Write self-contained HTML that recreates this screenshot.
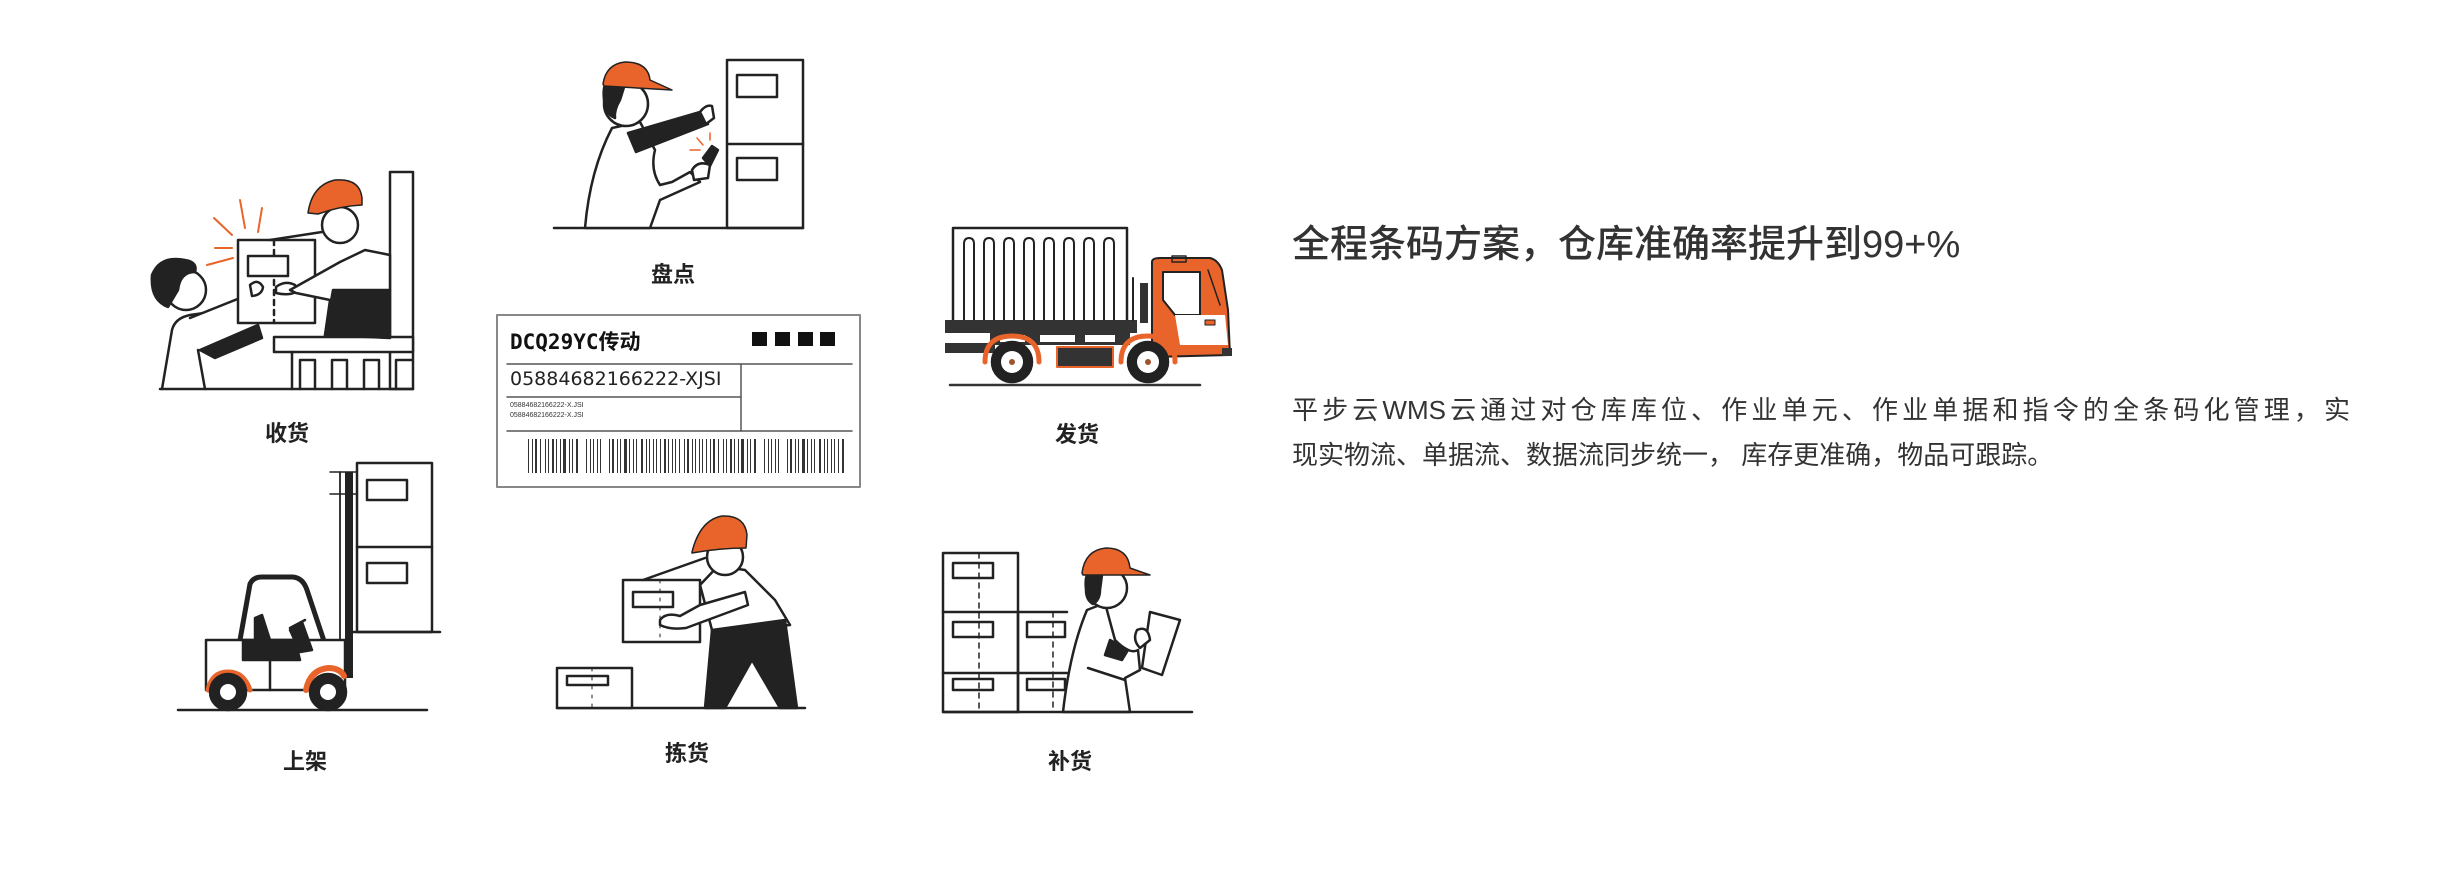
<!DOCTYPE html>
<html><head><meta charset="utf-8">
<style>
html,body{margin:0;padding:0;background:#fff;}
body{width:2444px;height:876px;position:relative;overflow:hidden;font-family:"Liberation Sans","Noto Sans CJK SC",sans-serif;color:#333;}
.lbl{position:absolute;font-family:"Liberation Sans","Noto Sans CJK SC",sans-serif;font-weight:700;font-size:22px;color:#222;transform:translate(-50%,-50%);white-space:nowrap;}
.title{position:absolute;left:1292px;top:220px;font-size:38px;font-weight:500;color:#333;white-space:nowrap;line-height:50px;}
.body1{position:absolute;left:1292px;top:389px;width:1058px;font-size:26px;line-height:42px;text-align:justify;text-align-last:justify;white-space:nowrap;color:#333;}
.body2{position:absolute;left:1292px;top:434px;font-size:26px;line-height:42px;white-space:pre;color:#333;}
svg{position:absolute;left:0;top:0;}
</style></head><body>
<svg width="2444" height="876" viewBox="0 0 2444 876" fill="none" stroke="#222" stroke-width="2.5" stroke-linejoin="round" stroke-linecap="round">
<!-- ===== 收货 ===== -->
<g>
<rect x="390" y="172" width="23" height="217" fill="#fff"/>
<rect x="274" y="337" width="139" height="15" fill="#fff"/>
<line x1="292" y1="352" x2="292" y2="389"/>
<path d="M300 389V360H315V389M332 389V360H347V389M364 389V360H379V389M396 389V360H411" />
<line x1="160" y1="389" x2="413" y2="389"/>
<!-- left person -->
<path d="M162 389L172 330Q175 318 190 315L225 310" fill="#fff"/>
<path d="M205 389L198 350" />
<path d="M200 350L258 325L262 338L215 358Z" fill="#222"/>
<path d="M190 318L255 292L262 305" fill="#fff"/>
<circle cx="186" cy="290" r="20" fill="#fff"/>
<path d="M152 275Q160 255 185 260Q198 262 195 272Q180 272 178 290Q172 300 168 307Q150 300 152 275Z" fill="#222"/>
<!-- box -->
<rect x="238" y="240" width="77" height="83" fill="#fff"/>
<line x1="274" y1="240" x2="274" y2="323" stroke-dasharray="5 5"/>
<rect x="248" y="256" width="40" height="20" fill="#fff"/>
<path d="M250 285Q258 278 263 287Q262 295 252 296Z" fill="#fff"/>
<path d="M276 287Q285 280 295 285L296 292Q288 296 276 293Z" fill="#fff"/>
<!-- right person -->
<path d="M290 290L340 262L365 250L390 255L390 290L380 320L325 335L330 300L296 293Z" fill="#fff"/>
<path d="M325 335L333 290L390 290L390 338Z" fill="#222"/>
<circle cx="340" cy="225" r="18" fill="#fff"/>
<path d="M308 213Q312 185 335 180Q360 178 362 198L362 205Q340 206 318 214Z" fill="#e8642a" stroke="#222" stroke-width="1.5"/>
<line x1="270" y1="240" x2="322" y2="232"/>
<!-- rays -->
<g stroke="#e8642a" stroke-width="2">
<line x1="214" y1="218" x2="232" y2="235"/><line x1="215" y1="248" x2="232" y2="248"/><line x1="207" y1="265" x2="233" y2="258"/>
<line x1="240" y1="200" x2="245" y2="228"/><line x1="262" y1="208" x2="258" y2="232"/>
</g>
</g>

<!-- ===== 盘点 ===== -->
<g>
<rect x="727" y="60" width="76" height="168" fill="#fff"/>
<line x1="727" y1="144" x2="803" y2="144"/>
<rect x="737" y="75" width="40" height="22"/><rect x="737" y="158" width="40" height="22"/>
<line x1="554" y1="228" x2="803" y2="228"/>
<path d="M585 228Q590 170 612 128L640 122L655 150Q650 170 660 185L672 182L690 172L700 182L660 200L650 228Z" fill="#fff"/>
<path d="M628 133L700 112L708 124L636 152Z" fill="#222"/>
<path d="M700 112Q706 104 712 106L714 118L706 124Z" fill="#fff"/>
<path d="M703 158L712 146L718 150L710 166Z" fill="#222"/>
<path d="M692 170Q698 160 710 165L708 178L694 180Z" fill="#fff"/>
<circle cx="626" cy="104" r="22" fill="#fff"/>
<path d="M604 100Q602 82 610 80L625 84L620 100Q614 110 615 118Q605 114 604 100Z" fill="#222"/>
<path d="M603 84Q606 64 625 62Q648 62 650 80L672 90L604 86Z" fill="#e8642a" stroke="#222" stroke-width="1.5"/>
<g stroke="#e8642a" stroke-width="1.5"><line x1="697" y1="138" x2="703" y2="145"/><line x1="690" y1="150" x2="700" y2="150"/><line x1="710" y1="133" x2="710" y2="140"/></g>
</g>

<!-- ===== 上架 ===== -->
<g>
<rect x="357" y="463" width="75" height="169" fill="#fff"/>
<line x1="357" y1="547" x2="432" y2="547"/>
<rect x="367" y="480" width="40" height="20"/><rect x="367" y="563" width="40" height="20"/>
<line x1="350" y1="632" x2="440" y2="632"/>
<line x1="340" y1="472" x2="340" y2="655" stroke-width="1.8"/>
<line x1="330" y1="472" x2="357" y2="472" stroke-width="1.5"/><line x1="330" y1="494" x2="357" y2="494" stroke-width="1.5"/>
<rect x="345" y="472" width="8" height="206" fill="#222" stroke="none"/>
<path d="M240 640L250 584Q253 577 262 577L293 577Q303 578 307 590L328 653" stroke-width="5"/>
<path d="M206 640H345V690H206Z" fill="#fff"/>
<path d="M243 640H295L300 660H243Z" fill="#222"/>
<path d="M255 618L262 615L270 640L255 640Z" fill="#222"/>
<path d="M290 630L302 622L312 650L300 652Z" fill="#222"/>
<line x1="290" y1="628" x2="305" y2="620"/>
<line x1="270" y1="660" x2="270" y2="690"/>
<path d="M208 690Q212 672 228 672Q244 672 250 690" stroke="#e8642a" stroke-width="5"/>
<path d="M306 690Q310 670 328 668Q340 668 344 676" stroke="#e8642a" stroke-width="6"/>
<circle cx="228" cy="692" r="18" fill="#222"/><circle cx="228" cy="692" r="8" fill="#fff" stroke="none"/>
<circle cx="328" cy="692" r="18" fill="#222"/><circle cx="328" cy="692" r="8" fill="#fff" stroke="none"/>
<line x1="178" y1="710" x2="427" y2="710"/>
</g>

<!-- ===== 拣货 ===== -->
<g>
<line x1="557" y1="708" x2="805" y2="708"/>
<rect x="557" y="668" width="75" height="40" fill="#fff"/>
<rect x="567" y="676" width="41" height="9"/>
<line x1="592" y1="668" x2="592" y2="708" stroke-dasharray="3 6" stroke-width="1"/>
<path d="M712 630L700 585L718 566L745 570L775 600L790 625L712 632Z" fill="#fff"/>
<path d="M712 630L785 620L797 708H780L752 660L725 708H705Z" fill="#222"/>
<rect x="623" y="580" width="77" height="62" fill="#fff"/>
<rect x="633" y="592" width="40" height="15"/>
<line x1="660" y1="580" x2="660" y2="642" stroke-dasharray="3 6" stroke-width="1"/>
<line x1="643" y1="580" x2="705" y2="558"/>
<path d="M660 620Q666 612 680 616L700 605L745 592L748 605L686 628Q670 630 660 625Z" fill="#fff"/>
<circle cx="725" cy="557" r="18" fill="#fff"/>
<path d="M692 552Q700 520 722 516Q745 515 747 535L746 548Q720 548 692 553Z" fill="#e8642a" stroke="#222" stroke-width="1.5"/>
</g>

<!-- ===== 补货 ===== -->
<g>
<rect x="943" y="553" width="75" height="159" fill="#fff"/>
<line x1="943" y1="612" x2="1067" y2="612"/><line x1="943" y1="673" x2="1067" y2="673"/>
<line x1="1018" y1="612" x2="1018" y2="712"/>
<rect x="953" y="563" width="40" height="15"/><rect x="953" y="622" width="40" height="15"/><rect x="953" y="679" width="40" height="11"/>
<rect x="1027" y="622" width="38" height="15"/><rect x="1027" y="679" width="38" height="11"/>
<line x1="979" y1="553" x2="979" y2="712" stroke-dasharray="5 5" stroke-width="1.5"/>
<line x1="1053" y1="612" x2="1053" y2="712" stroke-dasharray="5 5" stroke-width="1.5"/>
<path d="M1063 712Q1070 650 1087 610L1105 603L1115 640Q1130 655 1138 650L1140 670L1125 678L1130 712Z" fill="#fff"/>
<path d="M1110 640L1128 650L1122 660L1105 655Z" fill="#222"/>
<line x1="1088" y1="668" x2="1125" y2="680"/>
<path d="M1150 612L1180 620L1162 675L1142 668Z" fill="#fff"/>
<path d="M1137 630Q1148 625 1150 640L1140 648Q1132 640 1137 630Z" fill="#fff"/>
<circle cx="1107" cy="588" r="20" fill="#fff"/>
<path d="M1086 590Q1084 572 1092 570L1102 575L1100 590Q1100 600 1093 604Q1086 600 1086 590Z" fill="#222"/>
<path d="M1082 573Q1085 550 1106 548Q1128 548 1130 568L1150 575L1083 575Z" fill="#e8642a" stroke="#222" stroke-width="1.5"/>
<line x1="943" y1="712" x2="1192" y2="712"/>
</g>

<!-- ===== 发货 truck ===== -->
<g>
<rect x="953" y="228" width="174" height="94" fill="#fff"/>
<g stroke-width="2">
<path d="M964 320V244Q964 238 969 238Q974 238 974 244V320"/>
<path d="M984 320V244Q984 238 989 238Q994 238 994 244V320"/>
<path d="M1004 320V244Q1004 238 1009 238Q1014 238 1014 244V320"/>
<path d="M1024 320V244Q1024 238 1029 238Q1034 238 1034 244V320"/>
<path d="M1044 320V244Q1044 238 1049 238Q1054 238 1054 244V320"/>
<path d="M1064 320V244Q1064 238 1069 238Q1074 238 1074 244V320"/>
<path d="M1084 320V244Q1084 238 1089 238Q1094 238 1094 244V320"/>
<path d="M1104 320V244Q1104 238 1109 238Q1114 238 1114 244V320"/>
</g>
<rect x="945" y="320" width="192" height="13" fill="#333" stroke="none"/>
<rect x="945" y="343" width="50" height="10" fill="#333" stroke="none"/>
<rect x="990" y="333" width="140" height="12" fill="#333" stroke="none"/>
<rect x="1000" y="335" width="25" height="7" fill="#fff" stroke="none"/><rect x="1040" y="335" width="35" height="7" fill="#fff" stroke="none"/><rect x="1085" y="335" width="30" height="7" fill="#fff" stroke="none"/>
<rect x="1057" y="347" width="56" height="20" fill="#333" stroke="#e8642a" stroke-width="2"/>
<rect x="1140" y="283" width="8" height="40" fill="#333" stroke="none"/>
<line x1="1133" y1="278" x2="1133" y2="320" stroke-width="2"/>
<path d="M1152 262Q1152 258 1160 258L1210 258Q1218 260 1222 270L1228 310L1230 355L1152 357Z" fill="#e8642a" stroke="#222" stroke-width="2"/>
<rect x="1172" y="256" width="14" height="6" stroke-width="1.5"/>
<path d="M1163 272H1200V315H1175L1163 300Z" fill="#fff" stroke-width="2"/>
<path d="M1175 315H1225L1228 345H1180Z" fill="#fff" stroke="none"/>
<path d="M1208 270L1220 305" stroke-width="1.5"/>
<rect x="1205" y="320" width="10" height="5" fill="#e8642a" stroke-width="1"/>
<rect x="1222" y="348" width="10" height="8" fill="#333" stroke="none"/>
<path d="M985 362Q985 336 1012 336Q1039 336 1039 362" stroke="#e8642a" stroke-width="5"/>
<path d="M1121 362Q1121 336 1148 336Q1175 336 1175 362" stroke="#e8642a" stroke-width="5"/>
<circle cx="1012" cy="362" r="20" fill="#222"/><circle cx="1012" cy="362" r="11" fill="#fff" stroke="none"/><circle cx="1012" cy="362" r="3" fill="#a0522d" stroke="none"/>
<circle cx="1148" cy="362" r="20" fill="#222"/><circle cx="1148" cy="362" r="11" fill="#fff" stroke="none"/><circle cx="1148" cy="362" r="3" fill="#a0522d" stroke="none"/>
<line x1="950" y1="385" x2="1200" y2="385" stroke="#333"/>
</g>

<!-- ===== barcode label ===== -->
<g>
<rect x="497" y="315" width="363" height="172" fill="#fff" stroke="#888" stroke-width="2"/>
<line x1="507" y1="364" x2="852" y2="364" stroke="#555" stroke-width="1.5"/>
<line x1="741" y1="364" x2="741" y2="431" stroke="#555" stroke-width="1.5"/>
<line x1="507" y1="397" x2="741" y2="397" stroke="#555" stroke-width="1.5"/>
<line x1="507" y1="431" x2="852" y2="431" stroke="#555" stroke-width="1.5"/>
<g fill="#111" stroke="none"><rect x="752" y="332" width="15" height="14"/><rect x="775" y="332" width="15" height="14"/><rect x="798" y="332" width="15" height="14"/><rect x="820" y="332" width="15" height="14"/></g>
<line x1="528" y1="456" x2="845" y2="456" stroke="#333" stroke-width="34" stroke-linecap="butt" stroke-dasharray="1 3 1 2 2 3 1 4 1 2 1 3 2 2 1 3 1 2 3 3 1 2 1 3 2 8 1 3 1 2 1 3 1 2 1 8 1 2 2 3 1 2 1 3 3 2 1 3 1 2 1 4 2 3 1 2 1 3 1 2 1 3 1 3 2 2 1 3 1 2 1 3 1 4 1 2 2 3 1 2 1 3 1 2 1 3"/>
</g>
</svg>

<div style="position:absolute;left:510px;top:329px;font-family:'DejaVu Sans Mono','Noto Sans CJK SC',monospace;font-weight:700;font-size:21px;color:#111;white-space:nowrap;line-height:26px;">DCQ29YC传动</div>
<div style="position:absolute;left:510px;top:367px;font-family:'DejaVu Sans','Liberation Sans',sans-serif;font-size:19px;color:#222;white-space:nowrap;line-height:24px;">05884682166222-XJSI</div>
<div style="position:absolute;left:510px;top:401px;font-size:7px;color:#333;line-height:10px;white-space:nowrap;">05884682166222-X.JSI<br>05884682166222-X.JSI</div>

<div class="lbl" style="left:287px;top:432px;">收货</div>
<div class="lbl" style="left:673px;top:273px;">盘点</div>
<div class="lbl" style="left:1077px;top:433px;">发货</div>
<div class="lbl" style="left:305px;top:760px;">上架</div>
<div class="lbl" style="left:687px;top:752px;">拣货</div>
<div class="lbl" style="left:1070px;top:760px;">补货</div>

<div class="title">全程条码方案，仓库准确率提升到99+%</div>
<div class="body1">平步云WMS云通过对仓库库位、作业单元、作业单据和指令的全条码化管理，实</div>
<div class="body2">现实物流、单据流、数据流同步统一， 库存更准确，物品可跟踪。</div>
</body></html>
